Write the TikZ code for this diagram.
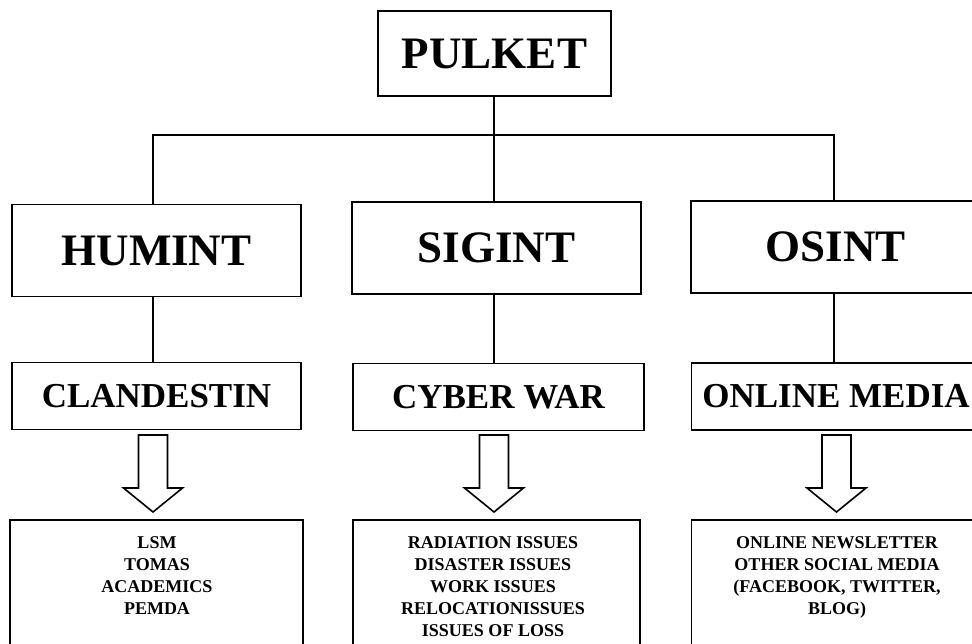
\documentclass[tikz,border=0pt]{standalone}
\usepackage{fontspec}
\setmainfont{Liberation Serif}
\usetikzlibrary{positioning}
\tikzset{rama/.style={line width=1.6pt}}
\tikzset{caja/.style={draw, rectangle, line width=1.6pt, inner sep=0pt}}
\tikzset{nivel1/.style={caja, minimum width=289pt, minimum height=92pt, font=\fontsize{45}{54}\selectfont\bfseries}}
\tikzset{nivel2/.style={caja, minimum width=289pt, minimum height=67pt, font=\fontsize{35}{42}\selectfont\bfseries}}
\tikzset{lista/.style={caja, anchor=north, minimum height=140pt}}
\tikzset{texto/.style={anchor=north, align=center, inner sep=0pt, font=\fontsize{18}{22}\selectfont\bfseries}}
\tikzset{pics/flecha/.style={code={
  \draw[rama] (-14.5,0) -- (-14.5,53) -- (-29.5,53) -- (0,77) -- (29.5,53) -- (14.5,53) -- (14.5,0) -- cycle;}}}

\begin{document}
\begin{tikzpicture}[x=1pt, y=-1pt]
  \clip (0,0) rectangle (972,643);
  \fill[white] (0,0) rectangle (972,643);

  \node[nivel1, minimum width=233pt, minimum height=85pt] (pulket) at (494.5,53.5) {PULKET};

  \node[nivel1] (humint) at (156.5,250.5) {HUMINT};
  \node[nivel1] (sigint) at (496.5,248) {SIGINT};
  \node[nivel1] (osint) at (835.5,247) {OSINT};

  \node[nivel2] (clandestin) at (156.5,396) {CLANDESTIN};
  \node[nivel2, minimum width=291pt] (cyber) at (498.5,397) {CYBER WAR};
  \node[nivel2] (online) at (836,396.5) {ONLINE MEDIA};

  \node[lista, minimum width=293pt] (lista1) at (156.5,519) {};
  \node[lista, minimum width=287pt] (lista2) at (496.5,519) {};
  \node[lista, minimum width=289pt] (lista3) at (836,519) {};

  \node[texto] (items1) at (157,536) {LSM\\TOMAS\\ACADEMICS\\PEMDA};
  \node[texto] (items2) at (493,536) {RADIATION ISSUES\\DISASTER ISSUES\\WORK ISSUES\\RELOCATIONISSUES\\ISSUES OF LOSS};
  \node[texto] (items3) at (837,536) {ONLINE NEWSLETTER\\OTHER SOCIAL MEDIA\\(FACEBOOK, TWITTER,\\BLOG)};

  % columnas de las ramas
  \coordinate (col1) at (153,135);
  \coordinate (col2) at (494,135);
  \coordinate (col3) at (834,135);

  \draw[rama] (pulket.south -| col2) -- (col2);
  \draw[rama] (humint.north -| col1) -- (col1) -- (col3) -- (osint.north -| col3);
  \draw[rama] (sigint.north -| col2) -- (col2);

  \draw[rama] (humint.south -| col1) -- (clandestin.north -| col1);
  \draw[rama] (sigint.south -| col2) -- (cyber.north -| col2);
  \draw[rama] (osint.south -| col3) -- (online.north -| col3);

  \pic at (153,435) {flecha};
  \pic at (494,435) {flecha};
  \pic at (836.5,435) {flecha};
\end{tikzpicture}
\end{document}
